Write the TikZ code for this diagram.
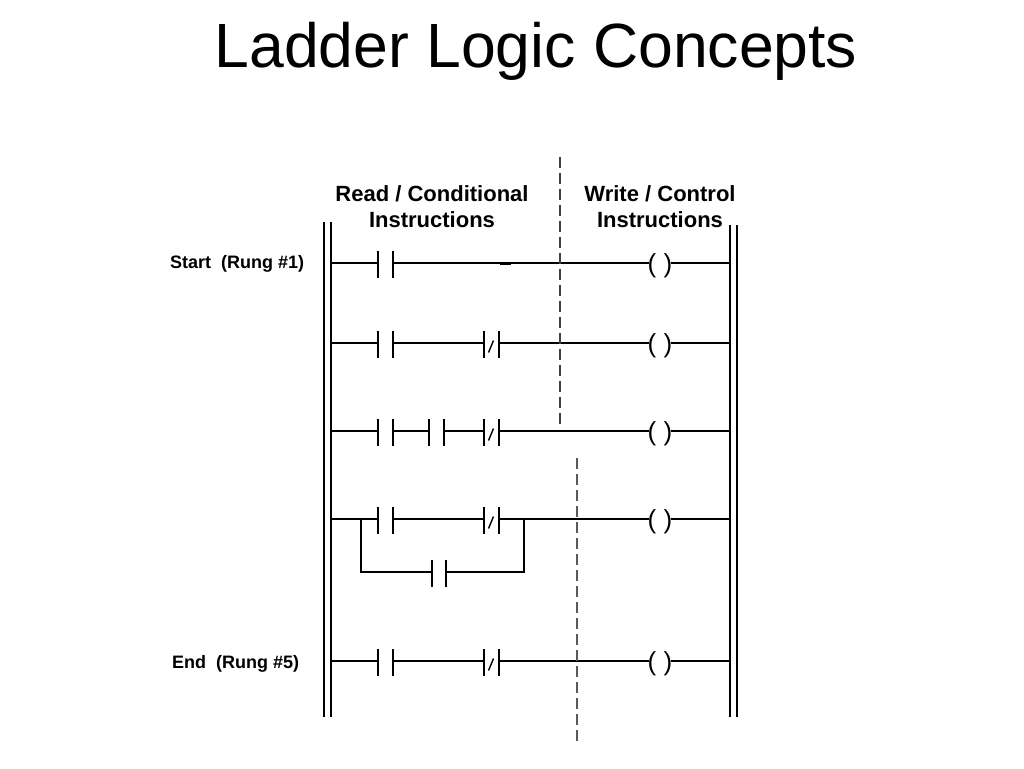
\documentclass[tikz,border=0pt]{standalone}
\usepackage{fontspec}
\setmainfont{Liberation Sans}
\begin{document}
\begin{tikzpicture}[x=1pt,y=-1pt,
  wire/.style={line width=1.4pt},
  rail/.style={line width=2pt},
  bar/.style={line width=2pt},
  contact/.style={rectangle,inner sep=0pt,outer sep=0pt,minimum width=15pt,minimum height=27pt},
  coil/.style={inner xsep=-1.8pt,inner ysep=0pt,anchor=base,font=\fontsize{26}{26}\selectfont},
  sepline/.style={line width=1.5pt,dash pattern=on 11pt off 5pt},
  lbl/.style={font=\fontsize{18}{20}\bfseries\selectfont,inner sep=0pt},
  hdr/.style={font=\fontsize{22}{26}\bfseries\selectfont,align=center,inner sep=0pt,anchor=north}]
\useasboundingbox (0,0) rectangle (1024,768);

% title
\node[font=\fontsize{62.5}{62.5}\selectfont,anchor=base,inner sep=0pt] (title) at (536,67) {Ladder Logic Concepts};

% headers
\node[hdr] (hread) at (432,185) {Read / Conditional\\Instructions};
\node[hdr] (hwrite) at (660,185) {Write / Control\\Instructions};

% rung labels
\node[lbl,anchor=base west] (lstart) at (170,268) {Start\ \ (Rung \#1)};
\node[lbl,anchor=base west] (lend) at (172,668) {End\ \ (Rung \#5)};

% rails
\coordinate (LoT) at (324,222); \coordinate (LoB) at (324,717);
\coordinate (LiT) at (331,222); \coordinate (LiB) at (331,717);
\coordinate (RiT) at (730,225); \coordinate (RiB) at (730,717);
\coordinate (RoT) at (737,225); \coordinate (RoB) at (737,717);
\draw[rail] (LoT) -- (LoB) (LiT) -- (LiB) (RiT) -- (RiB) (RoT) -- (RoB);

% contacts and coils
% rung 1
\node[contact] (c11) at (385.5,263) {};
\node[coil] (q1) at (660,272.5) {( )};
% rung 2
\node[contact] (c21) at (385.5,343) {};
\node[contact] (c22) at (491.5,343) {};
\node[coil] (q2) at (660,352.5) {( )};
% rung 3
\node[contact] (c31) at (385.5,431) {};
\node[contact] (c32) at (436.5,431) {};
\node[contact] (c33) at (491.5,431) {};
\node[coil] (q3) at (660,440.5) {( )};
% rung 4
\node[contact] (c41) at (385.5,519) {};
\node[contact] (c42) at (491.5,519) {};
\node[contact,minimum width=14pt] (c43) at (439,572) {};
\node[coil] (q4) at (660,528.5) {( )};
\coordinate (b1) at (361,519);
\coordinate (b2) at (524,519);
% rung 5
\node[contact] (c51) at (385.5,661) {};
\node[contact] (c52) at (491.5,661) {};
\node[coil] (q5) at (660,670.5) {( )};

% contact bars
\foreach \n in {c11,c21,c22,c31,c32,c33,c41,c42,c43,c51,c52}
  \draw[bar] ([yshift=-1.5pt]\n.north west) -- ([yshift=-1.5pt]\n.south west)
             ([yshift=-1.5pt]\n.north east) -- ([yshift=-1.5pt]\n.south east);
% normally closed slashes
\foreach \n in {c22,c33,c42,c52}
  \draw[line width=1.4pt] ([xshift=-3pt,yshift=-9.5pt]\n.center) -- ([xshift=2pt,yshift=2.5pt]\n.center);

% wires
\draw[wire] (LiT |- c11) -- (c11.west) (c11.east) -- (c11.east -| q1.west) (q1.east |- c11) -- (RiT |- c11);
\draw[line width=3pt] (500,263) -- (511,263);
\draw[wire] (LiT |- c21) -- (c21.west) (c21.east) -- (c22.west) (c22.east) -- (c22.east -| q2.west) (q2.east |- c22) -- (RiT |- c22);
\draw[wire] (LiT |- c31) -- (c31.west) (c31.east) -- (c32.west) (c32.east) -- (c33.west) (c33.east) -- (c33.east -| q3.west) (q3.east |- c33) -- (RiT |- c33);
\draw[wire] (LiT |- c41) -- (c41.west) (c41.east) -- (c42.west) (c42.east) -- (c42.east -| q4.west) (q4.east |- c42) -- (RiT |- c42);
\draw[wire] (b1) |- (c43.west) (c43.east) -| (b2);
\draw[wire] (LiT |- c51) -- (c51.west) (c51.east) -- (c52.west) (c52.east) -- (c52.east -| q5.west) (q5.east |- c52) -- (RiT |- c52);

% separators
\coordinate (d1t) at (560,157); \coordinate (d1b) at (560,428);
\coordinate (d2t) at (577,458); \coordinate (d2b) at (577,742);
\draw[sepline,black!75] (d1t) -- (d1b);
\draw[sepline,black!65] (d2t) -- (d2b);
\end{tikzpicture}
\end{document}
